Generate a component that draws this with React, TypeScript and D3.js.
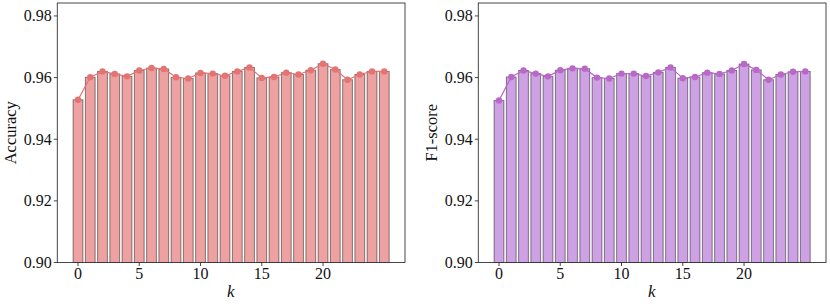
import React from "react";
import * as d3 from "d3";

const ks: number[] = Array.from({ length: 26 }, (_, i) => i);
const accuracy: number[] = [
  0.9528, 0.9601, 0.962, 0.9612, 0.9604, 0.9623, 0.9631, 0.9628, 0.9601, 0.9597,
  0.9615, 0.9613, 0.9606, 0.962, 0.9633, 0.9599, 0.9602, 0.9616, 0.961, 0.9624,
  0.9645, 0.9626, 0.9593, 0.961, 0.962, 0.962,
];
const f1score: number[] = [
  0.9526, 0.9602, 0.9623, 0.9613, 0.9604, 0.9624, 0.963, 0.9629, 0.96, 0.9597,
  0.9613, 0.9613, 0.9605, 0.9617, 0.9633, 0.9598, 0.9602, 0.9616, 0.9612, 0.9623,
  0.9644, 0.9625, 0.9593, 0.961, 0.9619, 0.962,
];
const yTicks: number[] = [0.9, 0.92, 0.94, 0.96, 0.98];
const xTicks: number[] = [0, 5, 10, 15, 20];

const FONT = "'Liberation Serif', 'Times New Roman', serif";

function Panel(props: {
  x0: number;
  x1: number;
  values: number[];
  color: string;
  barFill: string;
  label: string;
}) {
  const { x0, x1, values, color, barFill, label } = props;
  const yTop = 3;
  const yBot = 262.5;
  const x = d3.scaleLinear().domain([-1.69, 26.69]).range([x0, x1]);
  const y = d3.scaleLinear().domain([0.9, 0.9842]).range([yBot, yTop]);
  const bw = x(0.8) - x(0);
  const line = d3
    .line<number>()
    .x((_, i) => x(ks[i]))
    .y((d) => y(d));
  return (
    <g fontFamily={FONT}>
      {values.map((v, i) => (
        <rect
          key={i}
          x={x(ks[i]) - bw / 2}
          y={y(v)}
          width={bw}
          height={yBot - y(v)}
          fill={barFill}
          stroke="#000"
          strokeOpacity={0.45}
          strokeWidth={1}
        />
      ))}
      <path d={line(values) || ""} fill="none" stroke={color} strokeWidth={1.2} />
      {values.map((v, i) => (
        <circle key={"c" + i} cx={x(ks[i])} cy={y(v)} r={3.2} fill={color} />
      ))}
      <rect
        x={x0}
        y={yTop}
        width={x1 - x0}
        height={yBot - yTop}
        fill="none"
        stroke="#333"
        strokeWidth={0.9}
      />
      {yTicks.map((t) => (
        <g key={"y" + t}>
          <line x1={x0 - 3.5} x2={x0} y1={y(t)} y2={y(t)} stroke="#333" strokeWidth={0.9} />
          <text x={x0 - 5.5} y={y(t)} dy="0.34em" textAnchor="end" fontSize={16} fill="#111">
            {t.toFixed(2)}
          </text>
        </g>
      ))}
      {xTicks.map((t) => (
        <g key={"x" + t}>
          <line x1={x(t)} x2={x(t)} y1={yBot} y2={yBot + 3.5} stroke="#333" strokeWidth={0.9} />
          <text x={x(t)} y={278.5} textAnchor="middle" fontSize={16} fill="#111">
            {t}
          </text>
        </g>
      ))}
      <text
        x={(x0 + x1) / 2 - 0.5}
        y={297}
        textAnchor="middle"
        fontSize={17}
        fontStyle="italic"
        fill="#111"
      >
        k
      </text>
      <text
        transform={`translate(${x0 - 41},${(yTop + yBot) / 2}) rotate(-90)`}
        textAnchor="middle"
        fontSize={16.5}
        fill="#111"
      >
        {label}
      </text>
    </g>
  );
}

export default function App() {
  return (
    <svg
      width={830}
      height={305}
      style={{ position: "absolute", left: 0, top: 0, background: "#fff" }}
    >
      <rect width={830} height={305} fill="#fff" />
      <Panel x0={57.3} x1={405} values={accuracy} color="#E57373" barFill="#EEA1A1" label="Accuracy" />
      <Panel x0={478.3} x1={826} values={f1score} color="#BA68C8" barFill="#CEA0E4" label="F1-score" />
    </svg>
  );
}
